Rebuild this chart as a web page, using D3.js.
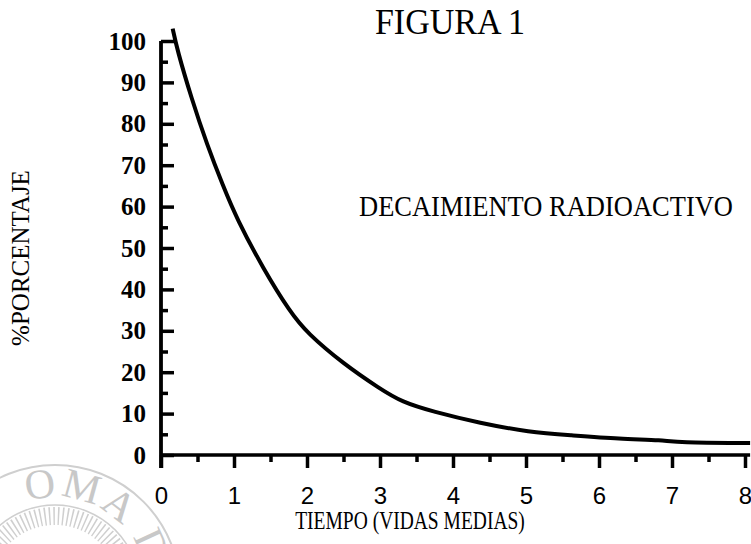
<!DOCTYPE html>
<html>
<head>
<meta charset="utf-8">
<script src="https://cdn.jsdelivr.net/npm/d3@7"></script>
<style>
  body { margin: 0; background: #fff; }
  svg { display: block; }
</style>
</head>
<body>
<div id="chart-area"></div>
<script>
// values
const tiempo     = [0.16, 0.22, 0.42, 0.63, 0.85, 1.04, 1.4, 1.77, 2.0, 2.5, 3.0, 3.3, 3.72, 4.37, 5.05, 5.6, 6.29, 6.88, 7.07, 8.07];
const porcentaje = [103, 98, 86, 75, 65, 57, 45, 34.5, 29.5, 22, 16, 12.8, 10.5, 7.7, 5.5, 4.8, 3.9, 3.6, 3.0, 2.9];

const xTicks = [0, 1, 2, 3, 4, 5, 6, 7, 8];
const xMinorTicks = [0.5, 1.5, 2.5, 3.5, 4.5, 5.5, 6.5, 7.5];
const yTicks = [0, 10, 20, 30, 40, 50, 60, 70, 80, 90, 100];
const yMinorTicks = [5, 15, 25, 35, 45, 55, 65, 75, 85, 95];
const xEnd = 8.07;

const title = 'FIGURA 1';
const note = 'DECAIMIENTO RADIOACTIVO';
const xTitle = 'TIEMPO (VIDAS MEDIAS)';
const yTitle = '%PORCENTAJE';

const W = 751, H = 544;
const serif = '"Liberation Serif", "Times New Roman", serif';
const sans = '"Liberation Sans", Arial, sans-serif';

const svg = d3.select('#chart-area').append('svg')
  .attr('width', W)
  .attr('height', H);

const x = d3.scaleLinear().domain([0, 8]).range([161, 745]);
const y = d3.scaleLinear().domain([0, 100]).range([455, 41]);

// faint seal watermark, bottom left
const seal = svg.append('g')
  .attr('transform', 'translate(55, 590)')
  .attr('fill', 'none')
  .attr('stroke', '#cfcfcf');
seal.append('circle').attr('r', 125).attr('stroke-width', 2);
seal.append('circle').attr('r', 74).attr('stroke-width', 18).attr('stroke-dasharray', '1.5 3');
seal.append('circle').attr('r', 85).attr('stroke-width', 1.5);
seal.append('path')
  .attr('id', 'sealArc')
  .attr('stroke', 'none')
  .attr('d', d3.arc()({innerRadius: 93, outerRadius: 93, startAngle: -1.3, endAngle: 1.8}).split('L')[0]);
seal.append('text')
  .attr('fill', '#c8c8c8')
  .attr('stroke', 'none')
  .attr('font-family', serif)
  .attr('font-size', 42)
  .attr('letter-spacing', 3)
  .append('textPath')
  .attr('href', '#sealArc')
  .attr('startOffset', '16%')
  .text('OMA D');

// x axis
const xAxisGroup = svg.append('g')
  .attr('transform', `translate(0, ${y(0)})`);

xAxisGroup.call(d3.axisBottom(x)
  .tickValues(xTicks)
  .tickSize(13)
  .tickPadding(19)
  .tickFormat(d3.format('d')));

const xMinorGroup = svg.append('g')
  .attr('transform', `translate(0, ${y(0)})`);
xMinorGroup.call(d3.axisBottom(x)
  .tickValues(xMinorTicks)
  .tickSize(7)
  .tickFormat(''));

[xAxisGroup, xMinorGroup].forEach(g => {
  g.select('.domain').remove();
  g.selectAll('line').attr('stroke', '#000').attr('stroke-width', 3.5);
});

xAxisGroup.selectAll('text')
  .attr('font-family', sans)
  .attr('font-size', 24)
  .attr('fill', '#000');

svg.append('line')
  .attr('x1', x(0)).attr('x2', x(xEnd))
  .attr('y1', y(0)).attr('y2', y(0))
  .attr('stroke', '#000')
  .attr('stroke-width', 3.5);

// y axis, ticks pointing inside
const yAxisGroup = svg.append('g')
  .attr('transform', `translate(${x(0)}, 0)`);

yAxisGroup.call(d3.axisLeft(y)
  .tickValues(yTicks)
  .tickSize(-13)
  .tickPadding(15));

const yMinorGroup = svg.append('g')
  .attr('transform', `translate(${x(0)}, 0)`);
yMinorGroup.call(d3.axisLeft(y)
  .tickValues(yMinorTicks)
  .tickSize(-7)
  .tickFormat(''));

[yAxisGroup, yMinorGroup].forEach(g => {
  g.select('.domain').remove();
  g.selectAll('line').attr('stroke', '#000').attr('stroke-width', 3.5);
});

yAxisGroup.selectAll('text')
  .attr('font-family', serif)
  .attr('font-weight', 'bold')
  .attr('font-size', 25)
  .attr('fill', '#000');

svg.append('line')
  .attr('x1', x(0)).attr('x2', x(0))
  .attr('y1', y(100)).attr('y2', y(0) + 13)
  .attr('stroke', '#000')
  .attr('stroke-width', 3.8);

// decay curve
const points = tiempo.map((t, i) => [t, porcentaje[i]]);
const line = d3.line()
  .x(d => x(d[0]))
  .y(d => y(d[1]))
  .curve(d3.curveBasis);

svg.append('path')
  .datum(points)
  .attr('fill', 'none')
  .attr('stroke', '#000')
  .attr('stroke-width', 4)
  .attr('stroke-linejoin', 'round')
  .attr('d', line);

// texts
svg.append('text')
  .attr('transform', 'translate(450, 34) scale(1, 1.05)')
  .attr('text-anchor', 'middle')
  .attr('font-family', serif)
  .attr('font-size', 34)
  .text(title);

svg.append('text')
  .attr('transform', 'translate(546, 216) scale(1, 1.1)')
  .attr('text-anchor', 'middle')
  .attr('font-family', serif)
  .attr('font-size', 26.5)
  .text(note);

svg.append('text')
  .attr('transform', 'translate(410, 529) scale(1, 1.3)')
  .attr('text-anchor', 'middle')
  .attr('font-family', serif)
  .attr('font-size', 19.5)
  .text(xTitle);

svg.append('text')
  .attr('transform', 'translate(29, 258) rotate(-90)')
  .attr('text-anchor', 'middle')
  .attr('font-family', serif)
  .attr('font-size', 25)
  .text(yTitle);
</script>
</body>
</html>
